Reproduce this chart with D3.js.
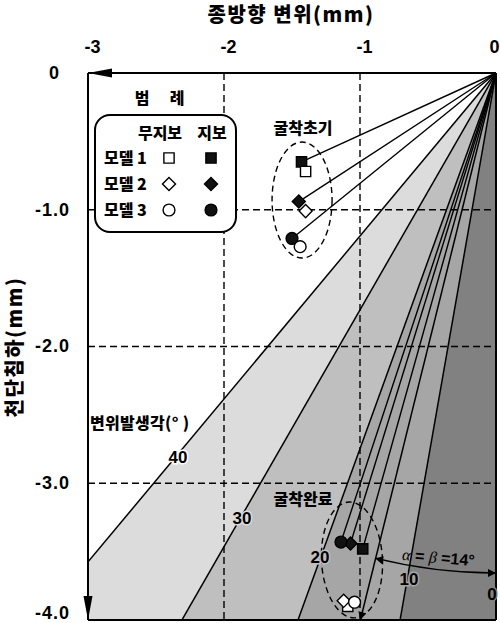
<!DOCTYPE html>
<html><head><meta charset="utf-8">
<script src="https://cdn.jsdelivr.net/npm/d3@7"></script>
<style>
body{margin:0;background:#fff;}
svg{display:block;}
text{font-family:"Liberation Sans","Noto Sans CJK KR",sans-serif;font-weight:bold;fill:#000;}
.kr{font-family:"Noto Sans CJK KR","Liberation Sans",sans-serif;font-weight:900;}
</style></head>
<body><svg id="c" width="500" height="623"></svg>
<script>
// ---- data ----
const models = ["모델 1", "모델 2", "모델 3"];
const shapes = ["square", "diamond", "circle"];
// 굴착초기 (initial excavation)
const initSupportX = [-1.43, -1.45, -1.50];
const initSupportY = [-0.65, -0.94, -1.21];
const initNoSupportX = [-1.40, -1.40, -1.44];
const initNoSupportY = [-0.72, -1.01, -1.27];
// 굴착완료 (excavation complete)
const finalSupportX = [-0.98, -1.07, -1.14];
const finalSupportY = [-3.48, -3.44, -3.43];
const finalNoSupportX = [-1.09, -1.12, -1.04];
const finalNoSupportY = [-3.90, -3.86, -3.87];
// displacement angle bands (deg from vertical)
const angleLines = [40, 30, 20, 10];
const angleLabels = ["40", "30", "20", "10", "0"];
const bandColors = ["#dcdcdc", "#bfbfbf", "#a6a6a6", "#818181"];
const alphaAngle = 14;
const xTicks = [-3, -2, -1, 0];
const yTicks = [0, -1, -2, -3, -4];

// ---- setup ----
const svg = d3.select("#c");
const x = d3.scaleLinear().domain([-3, 0]).range([88, 496]);
const y = d3.scaleLinear().domain([0, -4]).range([73, 620]);
const ox = x(0), oy = y(0);
const far = a => [-10 * Math.sin(a * Math.PI / 180), -10 * Math.cos(a * Math.PI / 180)];

const defs = svg.append("defs");
defs.append("clipPath").attr("id", "plot").append("rect")
  .attr("x", x(-3)).attr("y", y(0)).attr("width", x(0) - x(-3)).attr("height", y(-4) - y(0));
defs.append("marker").attr("id", "arr").attr("viewBox", "0 0 10 10")
  .attr("refX", 10).attr("refY", 5).attr("markerWidth", 11).attr("markerHeight", 8)
  .attr("markerUnits", "userSpaceOnUse").attr("orient", "auto-start-reverse")
  .append("path").attr("d", "M0,0L10,5L0,10z").attr("fill", "#000");

const plot = svg.append("g").attr("clip-path", "url(#plot)");
// bands
const bandEdges = angleLines.concat([0]);
for (let i = 0; i < bandEdges.length - 1; i++) {
  const a1 = bandEdges[i], a2 = bandEdges[i + 1];
  const p1 = far(a1), p2 = far(a2);
  plot.append("path")
    .attr("d", `M${ox},${oy}L${x(p1[0])},${y(p1[1])}L${x(p2[0])},${y(p2[1])}Z`)
    .attr("fill", bandColors[i]);
}
// grid
const grid = svg.append("g").attr("stroke", "#000").attr("stroke-width", 1.4).attr("stroke-dasharray", "7,4");
[-2, -1].forEach(v => grid.append("line").attr("x1", x(v)).attr("x2", x(v)).attr("y1", y(0)).attr("y2", y(-4)));
[-1, -2, -3].forEach(v => grid.append("line").attr("x1", x(-3)).attr("x2", x(0)).attr("y1", y(v)).attr("y2", y(v)));
// angle lines
angleLines.forEach(a => {
  const p = far(a);
  plot.append("line").attr("x1", ox).attr("y1", oy).attr("x2", x(p[0])).attr("y2", y(p[1]))
    .attr("stroke", "#000").attr("stroke-width", 1.5);
});
// alpha line with arrow
const ta = Math.tan(alphaAngle * Math.PI / 180);
svg.append("line").attr("x1", ox).attr("y1", oy).attr("x2", x(-4 * ta)).attr("y2", y(-4))
  .attr("stroke", "#000").attr("stroke-width", 1.5).attr("marker-end", "url(#arr)");
// lines to supported points
[[initSupportX, initSupportY], [finalSupportX, finalSupportY]].forEach(([xs, ys]) => {
  xs.forEach((v, i) => svg.append("line").attr("x1", ox).attr("y1", oy).attr("x2", x(v)).attr("y2", y(ys[i]))
    .attr("stroke", "#000").attr("stroke-width", 1.4));
});
// arc alpha = beta
const R = 500;
const sa = Math.sin(alphaAngle * Math.PI / 180), ca = Math.cos(alphaAngle * Math.PI / 180);
svg.append("path")
  .attr("d", `M${ox - R * sa},${oy + R * ca}A${R},${R} 0 0 0 ${ox},${oy + R}`)
  .attr("fill", "none").attr("stroke", "#000").attr("stroke-width", 1.4)
  .attr("marker-start", "url(#arr)").attr("marker-end", "url(#arr)");

// ellipses
const ellipses = [[-1.426, -0.929, 30, 58, 0], [-1.059, -3.561, 30.5, 58, -3]];
ellipses.forEach(e => svg.append("ellipse").attr("cx", x(e[0])).attr("cy", y(e[1])).attr("rx", e[2]).attr("ry", e[3])
  .attr("transform", `rotate(${e[4]},${x(e[0])},${y(e[1])})`)
  .attr("fill", "none").attr("stroke", "#000").attr("stroke-width", 1.4).attr("stroke-dasharray", "6,4"));

// markers
const symSize = {square: 105, diamond: 85, circle: 110};
function mark(g, shape, px, py, filled) {
  const type = shape === "circle" ? d3.symbolCircle : d3.symbolSquare;
  g.append("path").attr("d", d3.symbol().type(type).size(symSize[shape])())
    .attr("transform", `translate(${px},${py})` + (shape === "diamond" ? " rotate(45)" : ""))
    .attr("fill", filled ? "#111" : "#fff").attr("stroke", "#000").attr("stroke-width", 1.4);
}
const mg = svg.append("g");
models.forEach((m, i) => {
  mark(mg, shapes[i], x(initSupportX[i]), y(initSupportY[i]), true);
  mark(mg, shapes[i], x(initNoSupportX[i]), y(initNoSupportY[i]), false);
});
models.forEach((m, i) => {
  mark(mg, shapes[i], x(finalNoSupportX[i]), y(finalNoSupportY[i]), false);
});
models.forEach((m, i) => {
  mark(mg, shapes[i], x(finalSupportX[i]), y(finalSupportY[i]), true);
});

// axes frame
const fr = svg.append("g").attr("stroke", "#000").attr("stroke-width", 2).attr("fill", "none");
fr.append("line").attr("x1", x(-3)).attr("x2", x(0)).attr("y1", y(0)).attr("y2", y(0));
fr.append("line").attr("x1", x(-3)).attr("x2", x(-3)).attr("y1", y(0)).attr("y2", y(-4));
fr.append("line").attr("x1", x(-3)).attr("x2", x(0)).attr("y1", y(-4)).attr("y2", y(-4));
fr.append("line").attr("x1", x(0)).attr("x2", x(0)).attr("y1", y(0)).attr("y2", y(-4));
svg.append("path").attr("d", `M${x(-3)},${y(0)}L${x(-3) + 24},${y(0) - 4.5}L${x(-3) + 24},${y(0) + 4.5}Z`).attr("fill", "#000");
svg.append("path").attr("d", `M${x(-3)},${y(-4)}L${x(-3) - 4.5},${y(-4) - 24}L${x(-3) + 4.5},${y(-4) - 24}Z`).attr("fill", "#000");

// tick labels via axes
const xa = svg.append("g").attr("transform", `translate(0,${y(0) - 19})`)
  .call(d3.axisTop(x).tickValues(xTicks).tickSize(0).tickFormat(d => d === 0 ? "0" : String(d)));
xa.select(".domain").remove();
xa.selectAll("text").attr("font-size", 18).attr("dx", d => d === 0 ? -2 : 4).attr("dy", 2);
const ya = svg.append("g").attr("transform", `translate(${x(-3) - 15},0)`)
  .call(d3.axisLeft(y).tickValues(yTicks).tickSize(0).tickFormat(d => d === 0 ? "0" : d.toFixed(1)));
ya.select(".domain").remove();
ya.selectAll("text").attr("font-size", 18).attr("letter-spacing", 1).attr("dy", d => d === -4 ? "-0.1em" : "0.3em")
  .attr("dx", d => d === 0 ? -10 : 0);
svg.selectAll(".tick text").style("font-family", "Liberation Sans").style("font-weight", "bold");

// titles
svg.append("text").attr("class", "kr").attr("x", 291).attr("y", 22).attr("text-anchor", "middle")
  .attr("font-size", 20).attr("letter-spacing", 1.5).text("종방향 변위(mm)");
svg.append("text").attr("class", "kr").attr("transform", "translate(22,347) rotate(-90)").attr("text-anchor", "middle")
  .attr("font-size", 20).attr("letter-spacing", 1.5).text("천단침하(mm)");

// legend
svg.append("text").attr("class", "kr").attr("x", 142).attr("y", 104).attr("text-anchor", "middle").attr("font-size", 16).text("범");
svg.append("text").attr("class", "kr").attr("x", 177).attr("y", 104).attr("text-anchor", "middle").attr("font-size", 16).text("례");
svg.append("rect").attr("x", 95).attr("y", 115).attr("width", 141).attr("height", 117).attr("rx", 15)
  .attr("fill", "#fff").attr("stroke", "#000").attr("stroke-width", 2);
svg.append("text").attr("class", "kr").attr("x", 160).attr("y", 139).attr("text-anchor", "middle").attr("font-size", 16).text("무지보");
svg.append("text").attr("class", "kr").attr("x", 212).attr("y", 139).attr("text-anchor", "middle").attr("font-size", 16).text("지보");
const rowsY = [158, 184, 210];
const lg = svg.append("g");
models.forEach((m, i) => {
  svg.append("text").attr("class", "kr").attr("x", 104).attr("y", rowsY[i] + 6).attr("font-size", 16).text(m);
  mark(lg, shapes[i], 169, rowsY[i], false);
  mark(lg, shapes[i], 211, rowsY[i], true);
});

// annotations
svg.append("text").attr("class", "kr").attr("x", 303).attr("y", 134).attr("text-anchor", "middle").attr("font-size", 16).text("굴착초기");
svg.append("text").attr("class", "kr").attr("x", 303).attr("y", 505).attr("text-anchor", "middle").attr("font-size", 16).text("굴착완료");
svg.append("text").attr("class", "kr").attr("x", 90).attr("y", 429).attr("font-size", 16).attr("letter-spacing", 0.3).text("변위발생각(°  )");
const labPos = [[178, 457, "#ffffff"], [242, 518, "#dcdcdc"], [320, 557, "#bfbfbf"], [409, 579, "#a6a6a6"], [492, 594, "#818181"]];
angleLabels.forEach((t, i) => {
  svg.append("text").attr("x", labPos[i][0]).attr("y", labPos[i][1] + 6).attr("text-anchor", "middle")
    .attr("font-size", 17).attr("stroke", labPos[i][2]).attr("stroke-width", 3).attr("paint-order", "stroke")
    .text(t);
});
const at = svg.append("text").attr("transform", "translate(438,563) rotate(5)").attr("text-anchor", "middle").attr("font-size", 16);
at.append("tspan").attr("font-family", "Liberation Serif").attr("font-style", "italic").attr("font-weight", "normal").text("α");
at.append("tspan").text(" = ");
at.append("tspan").attr("font-family", "Liberation Serif").attr("font-style", "italic").attr("font-weight", "normal").text("β");
at.append("tspan").text(" =14°");
</script></body></html>
